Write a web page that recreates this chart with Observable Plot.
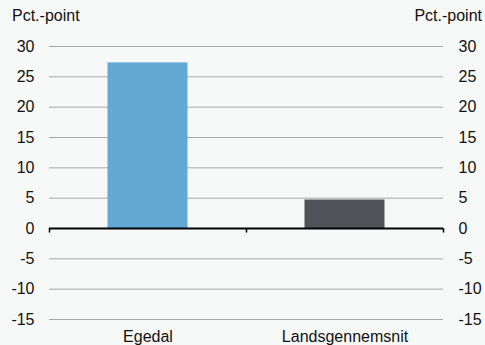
<!DOCTYPE html>
<html>
<head>
<meta charset="utf-8">
<script src="https://cdn.jsdelivr.net/npm/d3@7"></script>
<script src="https://cdn.jsdelivr.net/npm/@observablehq/plot@0.6"></script>
<style>
  html, body { margin: 0; padding: 0; background: #f7f8f8; }
  #chart { position: relative; width: 485px; height: 345px; }
  .unit { position: absolute; top: 7px; font: 16px "Liberation Sans", Arial, sans-serif; color: #111; }
</style>
</head>
<body>
<div id="chart">
  <div class="unit" style="left:12px">Pct.-point</div>
  <div class="unit" style="right:3px">Pct.-point</div>
</div>
<script>
const categories = ["Egedal", "Landsgennemsnit"];
const values = [27.3, 4.7];
const colors = ["#62a9d6", "#515257"];
const yTicks = [-15, -10, -5, 0, 5, 10, 15, 20, 25, 30];
const unitLabel = "Pct.-point";

const data = categories.map((c, i) => ({cat: c, i, value: values[i], color: colors[i]}));
const halfBar = 0.203;
const boundaries = d3.range(categories.length + 1).map(k => k - 0.5);
const fmt = d => String(d);

const plot = Plot.plot({
  width: 485,
  height: 345,
  marginLeft: 49,
  marginRight: 42,
  marginTop: 46,
  marginBottom: 26,
  style: {background: "transparent", fontFamily: "'Liberation Sans', Arial, sans-serif", fontSize: "16px", color: "#111"},
  x: {type: "linear", domain: [-0.5, categories.length - 0.5], axis: null},
  y: {domain: [-15, 30], axis: null},
  marks: [
    Plot.ruleY(yTicks.filter(t => t !== 0), {stroke: "#a6a6a6", strokeWidth: 1}),
    Plot.rectY(data, {x1: d => d.i - halfBar, x2: d => d.i + halfBar, y1: 0, y2: "value", fill: "color"}),
    Plot.ruleY([0], {stroke: "#000", strokeWidth: 2}),
    Plot.ruleX(boundaries, {y1: 0, y2: -0.75, stroke: "#000", strokeWidth: 1.5}),
    Plot.axisY({anchor: "left", ticks: yTicks, tickFormat: fmt, tickSize: 0, tickPadding: 15, label: null, fontSize: 16}),
    Plot.axisY({anchor: "right", ticks: yTicks, tickFormat: fmt, tickSize: 0, tickPadding: 15, label: null, fontSize: 16}),
    Plot.axisX({ticks: d3.range(categories.length), tickFormat: i => categories[i], tickSize: 0, tickPadding: 11, label: null, fontSize: 16})
  ]
});
document.getElementById("chart").prepend(plot);
plot.style.position = "absolute";
plot.style.left = "0";
plot.style.top = "0";
</script>
</body>
</html>
